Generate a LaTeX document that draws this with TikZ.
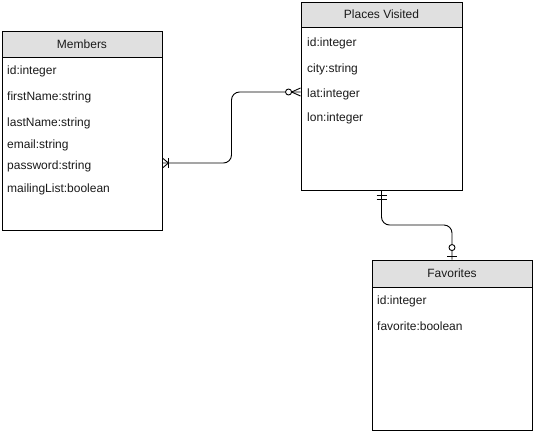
\documentclass[tikz,border=0pt]{standalone}
\usepackage{fontspec}
\setmainfont{Liberation Sans}
\usetikzlibrary{calc}
\definecolor{hdr}{HTML}{E0E0E0}
\definecolor{txt}{HTML}{1A1A1A}
\begin{document}
\begin{tikzpicture}[x=1pt,y=-1pt,
  tbl/.style={draw=black,line width=0.9pt,rectangle,inner sep=0pt},
  hd/.style={draw=black,line width=0.9pt,fill=hdr,rectangle,inner sep=0pt,anchor=north,text=txt,font=\fontsize{12}{14}\selectfont},
  attr/.style={anchor=west,inner sep=0pt,text=txt,font=\fontsize{12}{14}\selectfont},
  conn/.style={draw=black,line width=0.9pt,rounded corners=8pt},
  mk/.style={draw=black,line width=0.9pt}]
\useasboundingbox (0,0) rectangle (533,432);
% Members
\node[tbl,minimum width=160pt,minimum height=199pt] (mem) at (82,130.5) {};
\node[hd,minimum width=160pt,minimum height=26pt] (memh) at (mem.north) {Members};
\node[attr] (m1) at (7,71) {id:integer};
\node[attr] (m2) at (7,97) {firstName:string};
\node[attr] (m3) at (7,123) {lastName:string};
\node[attr] (m4) at (7,145) {email:string};
\node[attr] (m5) at (7,166.5) {password:string};
\node[attr] (m6) at (7,189) {mailingList:boolean};
% Places Visited
\node[tbl,minimum width=161pt,minimum height=188pt] (pv) at (381.5,96) {};
\node[hd,minimum width=161pt,minimum height=25pt] (pvh) at (pv.north) {Places Visited};
\node[attr] (p1) at (307,43) {id:integer};
\node[attr] (p2) at (307,69) {city:string};
\node[attr] (p3) at (307,94) {lat:integer};
\node[attr] (p4) at (307,118.5) {lon:integer};
% Favorites
\node[tbl,minimum width=160pt,minimum height=170pt] (fav) at (452,345) {};
\node[hd,minimum width=160pt,minimum height=27pt] (favh) at (fav.north) {Favorites};
\node[attr] (f1) at (377,301) {id:integer};
\node[attr] (f2) at (377,326.5) {favorite:boolean};
% connector Members -- Places Visited
\coordinate (ca) at (mem.east |- 0,163);
\coordinate (cb) at (pv.west |- 0,92);
\draw[conn] (ca) -| ($(ca)!.5!(cb)$) |- (cb);
\draw[mk] (ca) ++(6,-5) -- ++(0,10);
\draw[mk] ($(ca)+(6,0)$) -- ($(ca)+(0,-5)$);
\draw[mk] ($(ca)+(6,0)$) -- ($(ca)+(0,5)$);
\draw[mk,fill=white] ($(cb)+(-12,0)$) circle (3pt);
\draw[mk] ($(cb)+(-9,0)$) -- ($(cb)+(0,-4)$);
\draw[mk] ($(cb)+(-9,0)$) -- ($(cb)+(0,4)$);
% connector Places Visited -- Favorites
\draw[conn] (pv.south) |- ($(pv.south)!.5!(fav.north)$) -| (fav.north);
\draw[mk] ($(pv.south)+(-5,5)$) -- ++(10,0);
\draw[mk] ($(pv.south)+(-5,9)$) -- ++(10,0);
\draw[mk] ($(fav.north)+(-5,-3.5)$) -- ++(10,0);
\draw[mk,fill=white] ($(fav.north)+(0,-12)$) circle (3pt);
\end{tikzpicture}
\end{document}
